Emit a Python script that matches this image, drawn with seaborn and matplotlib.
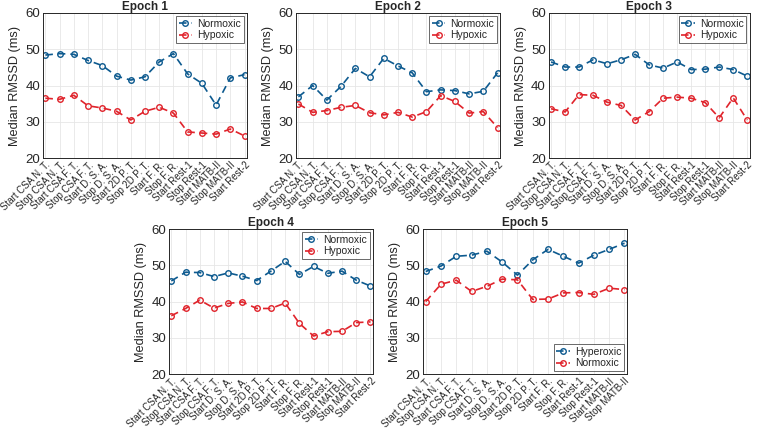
import numpy as np
import pandas as pd
import seaborn as sns
import matplotlib.pyplot as plt

# etiquetas de los eventos
labels = ['Start CSA N. T.', 'Stop CSA N. T.', 'Start CSA F. T.', 'Stop CSA F. T.',
          'Start D. S. A.', 'Stop D. S. A.', 'Start 2D P. T.', 'Stop 2D P. T.',
          'Start F. R.', 'Stop F. R.', 'Start Rest-1', 'Stop Rest-1',
          'Start MATB-II', 'Stop MATB-II', 'Start Rest-2']

# valores (mediana RMSSD, ms)
e1_norm = [48.4, 48.8, 48.6, 46.9, 45.5, 42.6, 41.5, 42.4, 46.5, 48.8, 43.2, 40.6, 34.6, 42.1, 43.0]
e1_hyp = [36.5, 36.2, 37.3, 34.4, 33.8, 32.9, 30.5, 32.9, 34.0, 32.4, 27.2, 26.9, 26.6, 28.0, 26.1]

e2_norm = [36.9, 40.0, 36.0, 39.8, 44.7, 42.4, 47.5, 45.4, 43.5, 38.3, 38.8, 38.6, 37.7, 38.4, 43.5]
e2_hyp = [34.9, 32.6, 33.1, 34.0, 34.5, 32.5, 31.9, 32.6, 31.3, 32.8, 37.2, 35.6, 32.4, 32.8, 28.4]

e3_norm = [46.5, 45.1, 45.1, 47.1, 46.0, 47.1, 48.6, 45.7, 44.8, 46.5, 44.4, 44.5, 45.1, 44.4, 42.6]
e3_hyp = [33.6, 32.7, 37.5, 37.3, 35.4, 34.5, 30.5, 32.8, 36.5, 36.8, 36.5, 35.3, 31.1, 36.6, 30.5]

e4_norm = [45.7, 48.1, 48.0, 46.9, 47.9, 47.0, 45.8, 48.4, 51.1, 47.5, 49.7, 47.8, 48.4, 45.9, 44.3]
e4_hyp = [36.1, 38.1, 40.4, 38.2, 39.5, 39.9, 38.1, 38.1, 39.6, 34.0, 30.5, 31.7, 31.8, 34.2, 34.4]

e5_hyper = [48.3, 49.8, 52.5, 52.8, 53.9, 50.9, 47.3, 51.5, 54.4, 52.5, 50.6, 52.8, 54.4, 56.1]
e5_norm = [40.0, 44.8, 45.9, 42.8, 44.2, 46.2, 46.0, 40.6, 40.7, 42.4, 42.5, 42.0, 43.7, 43.3]

blue = '#0d5a8f'
red = '#e0232b'

sns.set_style('whitegrid')
plt.rcParams['font.family'] = ['Liberation Sans', 'DejaVu Sans']

fig = plt.figure(figsize=(7.61, 4.33), dpi=100)

w, h = 0.268, 0.335
paneles = [
    ('Epoch 1', [0.0565, 0.635, w, h], e1_norm, e1_hyp, 'Normoxic', 'Hypoxic', 'upper right'),
    ('Epoch 2', [0.389, 0.635, w, h], e2_norm, e2_hyp, 'Normoxic', 'Hypoxic', 'upper right'),
    ('Epoch 3', [0.721, 0.635, 0.264, h], e3_norm, e3_hyp, 'Normoxic', 'Hypoxic', 'upper right'),
    ('Epoch 4', [0.222, 0.136, w, h], e4_norm, e4_hyp, 'Normoxic', 'Hypoxic', 'upper right'),
    ('Epoch 5', [0.556, 0.136, w, h], e5_hyper, e5_norm, 'Hyperoxic', 'Normoxic', 'lower right'),
]

for titulo, pos, s1, s2, n1, n2, loc in paneles:
    ax = fig.add_axes(pos)
    n = len(s1)
    x = np.arange(n)
    df = pd.DataFrame({'x': np.concatenate([x, x]),
                       'y': s1 + s2,
                       'grupo': [n1] * n + [n2] * n})
    for nombre, color in [(n1, blue), (n2, red)]:
        sub = df[df['grupo'] == nombre]
        sns.lineplot(data=sub, x='x', y='y', ax=ax, color=color, label=nombre,
                     linewidth=1.2, marker='o', markersize=4,
                     markerfacecolor='none', markeredgecolor=color,
                     markeredgewidth=1.0)
        ax.lines[-1].set_linestyle((0, (4.5, 3)))
    ax.set_xlim(-0.17, n - 1 + 0.17)
    ax.set_ylim(20, 60)
    ax.set_yticks([20, 30, 40, 50, 60])
    ax.set_xticks(x)
    ax.set_xticklabels(labels[:n], rotation=45, ha='right', rotation_mode='anchor', fontsize=6.9)
    ax.tick_params(axis='y', labelsize=9.5, length=0, pad=2, colors='#262626')
    ax.tick_params(axis='x', length=0, pad=1.5, colors='#262626')
    ax.set_xlabel('')
    ax.set_ylabel('Median RMSSD (ms)', fontsize=9.2, color='#262626', labelpad=3)
    ax.set_title(titulo, fontsize=8.5, fontweight='bold', pad=2)
    ax.grid(True, color='#e6e6e6', linewidth=0.6)
    for sp in ax.spines.values():
        sp.set_color('#262626')
        sp.set_linewidth(0.7)
    leg = ax.legend(loc=loc, fontsize=7.5, frameon=True, fancybox=False,
                    handlelength=1.3, borderpad=0.25, labelspacing=0.15,
                    handletextpad=0.5, borderaxespad=0.3)
    leg.get_frame().set_edgecolor('#262626')
    leg.get_frame().set_linewidth(0.6)

fig.savefig('out.png', dpi=100)
